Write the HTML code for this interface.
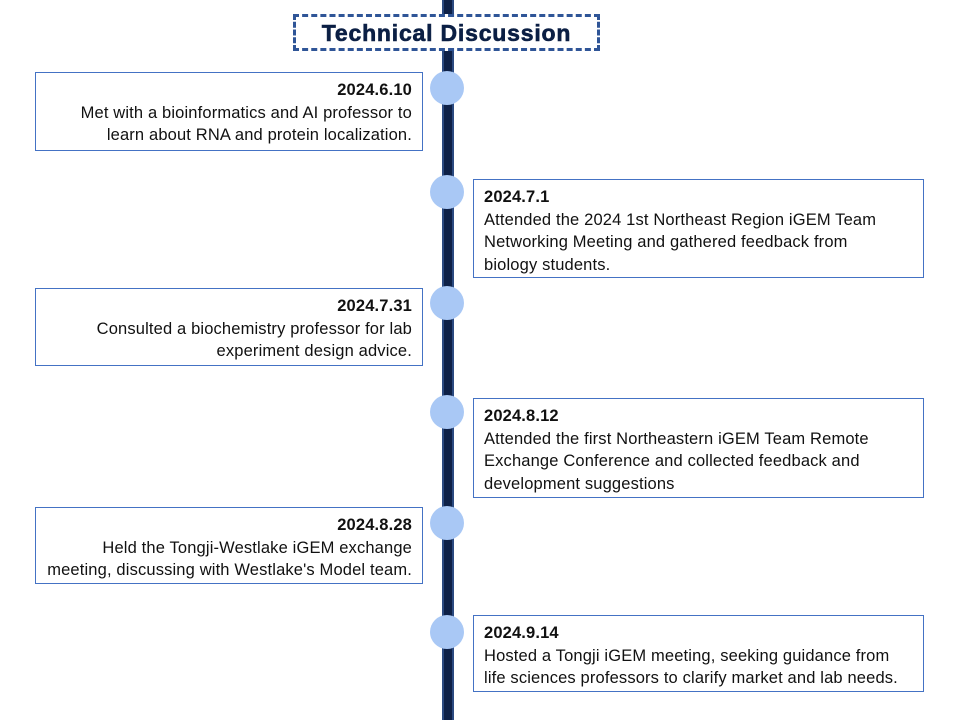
<!DOCTYPE html>
<html><head><style>
body{margin:0;width:957px;height:720px;background:#fff;position:relative;overflow:hidden;font-family:"Liberation Sans",sans-serif}
.line{position:absolute;left:442px;top:0;width:8px;height:720px;background:#0e2147;border-left:2px solid #2b4a80;border-right:2px solid #2b4a80;box-sizing:content-box}
.title{position:absolute;left:293px;top:14px;width:301px;height:31px;border:3px dashed #2f5597;background:#fff;text-align:center;font-weight:bold;font-size:23px;letter-spacing:0.8px;line-height:33px;color:#0b1f44;-webkit-text-stroke:0.6px #0b1f44}
.c{position:absolute;left:430px;width:34px;height:34px;border-radius:50%;background:#a9c8f5}
.b{position:absolute;border:1px solid #4472c4;background:#fff;box-sizing:border-box;font-size:16.5px;letter-spacing:0.15px;line-height:22.5px;color:#111;white-space:nowrap}
.l{left:35px;width:388px;text-align:right;padding:6px 10px 0 0}
.r{left:473px;width:451px;text-align:left;padding:6px 0 0 10px}
b{font-weight:bold}
</style></head><body>
<div class="line"></div>
<div class="title">Technical Discussion</div>
<div class="c" style="top:71px"></div>
<div class="c" style="top:175px"></div>
<div class="c" style="top:286px"></div>
<div class="c" style="top:395px"></div>
<div class="c" style="top:506px"></div>
<div class="c" style="top:615px"></div>
<div class="b l" style="top:72px;height:79px"><b>2024.6.10</b><br>Met with a bioinformatics and AI professor to<br>learn about RNA and protein localization.</div>
<div class="b r" style="top:179px;height:99px"><b>2024.7.1</b><br>Attended the 2024 1st Northeast Region iGEM Team<br>Networking Meeting and gathered feedback from<br>biology students.</div>
<div class="b l" style="top:288px;height:78px"><b>2024.7.31</b><br>Consulted a biochemistry professor for lab<br>experiment design advice.</div>
<div class="b r" style="top:398px;height:100px"><b>2024.8.12</b><br>Attended the first Northeastern iGEM Team Remote<br>Exchange Conference and collected feedback and<br>development suggestions</div>
<div class="b l" style="top:507px;height:77px"><b>2024.8.28</b><br>Held the Tongji-Westlake iGEM exchange<br>meeting, discussing with Westlake's Model team.</div>
<div class="b r" style="top:615px;height:77px"><b>2024.9.14</b><br>Hosted a Tongji iGEM meeting, seeking guidance from<br>life sciences professors to clarify market and lab needs.</div>
</body></html>
